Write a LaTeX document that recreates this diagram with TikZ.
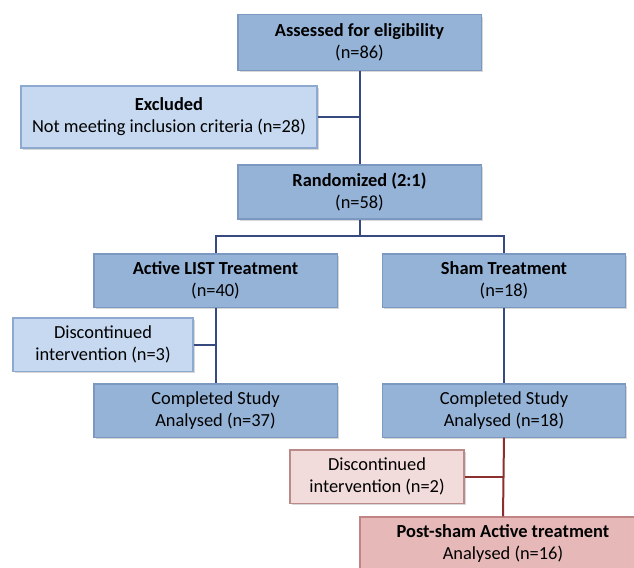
\documentclass[tikz,border=0pt]{standalone}
\usepackage{fontspec}
\setmainfont{Carlito}
\usepackage{tikz}
\usepackage{xcolor}
\usetikzlibrary{shadows}

\definecolor{mainfill}{HTML}{95B3D7}
\definecolor{mainline}{HTML}{7C98C0}
\definecolor{sidefill}{HTML}{C6D9F1}
\definecolor{sideline}{HTML}{8EA9CF}
\definecolor{pinkfill}{HTML}{F2DCDB}
\definecolor{pinkline}{HTML}{B98A88}
\definecolor{postfill}{HTML}{E6B9B8}
\definecolor{postline}{HTML}{C08484}
\definecolor{navy}{HTML}{374A7F}
\definecolor{darkred}{HTML}{8B2F2F}

\tikzset{
  flowbox/.style={draw, line width=0.8pt, inner sep=0pt, align=center,
    font=\fontsize{13.8}{16.5}\selectfont,
    drop shadow={opacity=0.3, shadow xshift=1.2pt, shadow yshift=-1.2pt}},
  mainbox/.style={flowbox, fill=mainfill, draw=mainline, minimum width=182.3pt, minimum height=39.8pt},
  sidebox/.style={flowbox, fill=sidefill, draw=sideline, minimum height=39.8pt},
  pinkbox/.style={flowbox, fill=pinkfill, draw=pinkline, minimum height=39.8pt},
  postbox/.style={flowbox, fill=postfill, draw=postline, minimum width=214.5pt, minimum height=39.8pt},
  blueline/.style={draw=navy, line width=1.5pt},
  redline/.style={draw=darkred, line width=1.5pt}
}

\begin{document}
\begin{tikzpicture}[x=0.75pt,y=0.75pt,yscale=-1,xscale=1]
    %set diagram to 634 x 567
    \useasboundingbox[fill=white] (0,0) rectangle (634,567);

    % Boxes
    \node [mainbox, minimum height=41.3pt] (assess) at (359.5,42.5) {\textbf{Assessed for eligibility}\\(n=86)};
    \node [sidebox, minimum width=222pt, minimum height=46.5pt] (excl) at (169,117) {\textbf{Excluded}\\Not meeting inclusion criteria (n=28)};
    \node [mainbox, minimum height=40.5pt] (rand) at (359.5,192) {\textbf{Randomized (2:1)}\\(n=58)};
    \node [mainbox] (active) at (215.5,280.5) {\textbf{Active LIST Treatment}\\(n=40)};
    \node [mainbox] (sham) at (504,280.5) {\textbf{Sham Treatment}\\(n=18)};
    \node [sidebox, minimum width=135pt] (disc1) at (103,344.5) {Discontinued\\intervention (n=3)};
    \node [mainbox] (comp1) at (215.5,410.5) {Completed Study\\Analysed (n=37)};
    \node [mainbox] (comp2) at (504,410.5) {Completed Study\\Analysed (n=18)};
    \node [pinkbox, minimum width=130.5pt] (disc2) at (377,476.5) {Discontinued\\intervention (n=2)};
    \node [postbox] (post) at (503,543.5) {\textbf{Post-sham Active treatment}\\Analysed (n=16)};

    % Join points
    \coordinate (exclj) at (excl.east -| assess.south);
    \coordinate (split) at (359.5,236);
    \coordinate (disc1j) at (disc1.east -| active.south);
    \coordinate (disc2j) at (disc2.east -| comp2.south);

    %Straight Lines
    \draw [blueline] (assess.south) -- (rand.north);
    \draw [blueline] (excl.east) -- (exclj);
    \draw [blueline] (rand.south) -- (split);
    \draw [blueline] (active.north) |- (split) -| (sham.north);
    \draw [blueline] (active.south) -- (comp1.north);
    \draw [blueline] (disc1.east) -- (disc1j);
    \draw [blueline] (sham.south) -- (comp2.north);
    \draw [redline] (comp2.south) -- (post.north);
    \draw [redline] (disc2.east) -- (disc2j);

\end{tikzpicture}
\end{document}
